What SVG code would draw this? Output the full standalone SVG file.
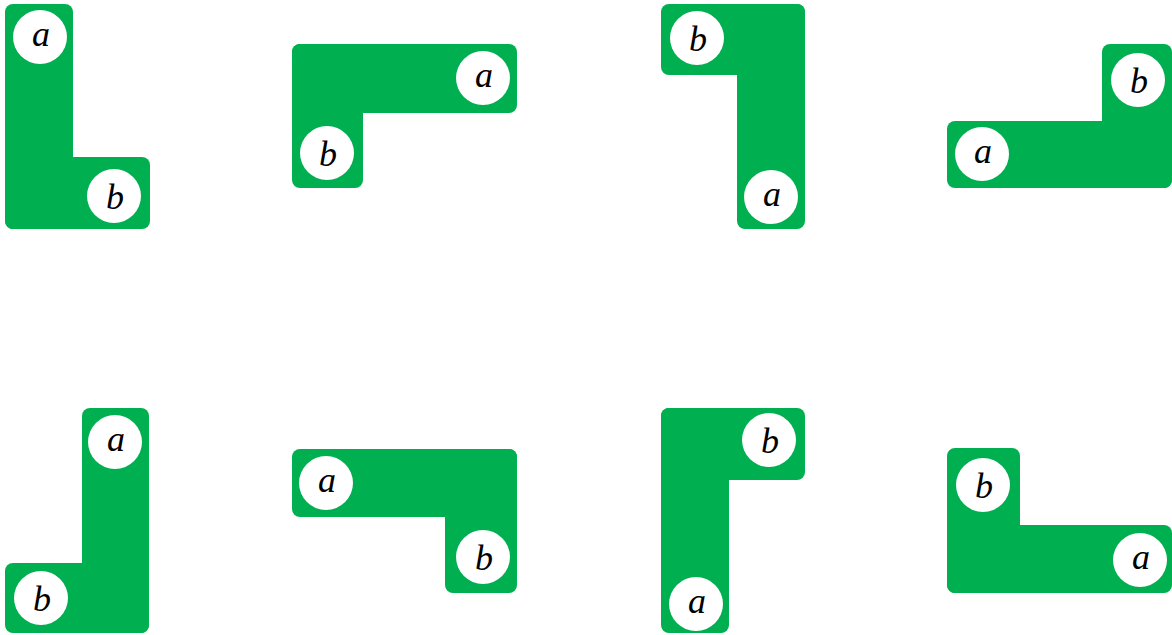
<svg xmlns="http://www.w3.org/2000/svg" width="1172" height="635" viewBox="0 0 1172 635">
<style>
.g{fill:#00AF50}
.c{fill:#ffffff}
.t{font-family:"Liberation Serif","DejaVu Serif",serif;font-style:italic;font-size:36px;fill:#000;text-anchor:middle}
</style>
<rect width="1172" height="635" fill="#ffffff"/>
<g id="shape1">
<rect class="g" x="5" y="4" width="68" height="225" rx="8"/>
<rect class="g" x="5" y="157" width="145" height="72" rx="8"/>
<circle class="c" cx="40" cy="37" r="27"/>
<text class="t" x="41" y="46">a</text>
<circle class="c" cx="114" cy="196" r="27"/>
<text class="t" x="115" y="209">b</text>
</g>
<g id="shape2">
<rect class="g" x="292" y="44" width="225" height="69" rx="8"/>
<rect class="g" x="292" y="44" width="71" height="144" rx="8"/>
<circle class="c" cx="483" cy="78" r="27"/>
<text class="t" x="484" y="87">a</text>
<circle class="c" cx="327" cy="153" r="27"/>
<text class="t" x="328" y="166">b</text>
</g>
<g id="shape3">
<rect class="g" x="661" y="4" width="144" height="71" rx="8"/>
<rect class="g" x="737" y="4" width="68" height="225" rx="8"/>
<circle class="c" cx="697" cy="38" r="27"/>
<text class="t" x="698" y="51">b</text>
<circle class="c" cx="771" cy="197" r="27"/>
<text class="t" x="772" y="206">a</text>
</g>
<g id="shape4">
<rect class="g" x="1102" y="44" width="70" height="144" rx="8"/>
<rect class="g" x="947" y="121" width="225" height="67" rx="8"/>
<circle class="c" cx="1138" cy="80" r="27"/>
<text class="t" x="1139" y="93">b</text>
<circle class="c" cx="982" cy="154" r="27"/>
<text class="t" x="983" y="163">a</text>
</g>
<g id="shape5">
<rect class="g" x="82" y="408" width="67" height="225" rx="8"/>
<rect class="g" x="5" y="563" width="144" height="70" rx="8"/>
<circle class="c" cx="115" cy="442" r="27"/>
<text class="t" x="116" y="451">a</text>
<circle class="c" cx="41" cy="598" r="27"/>
<text class="t" x="42" y="611">b</text>
</g>
<g id="shape6">
<rect class="g" x="292" y="449" width="225" height="68" rx="8"/>
<rect class="g" x="445" y="449" width="72" height="144" rx="8"/>
<circle class="c" cx="326" cy="483" r="27"/>
<text class="t" x="327" y="492">a</text>
<circle class="c" cx="483" cy="557" r="27"/>
<text class="t" x="484" y="570">b</text>
</g>
<g id="shape7">
<rect class="g" x="661" y="408" width="68" height="225" rx="8"/>
<rect class="g" x="661" y="408" width="144" height="72" rx="8"/>
<circle class="c" cx="769" cy="440" r="27"/>
<text class="t" x="770" y="453">b</text>
<circle class="c" cx="696" cy="604" r="27"/>
<text class="t" x="697" y="613">a</text>
</g>
<g id="shape8">
<rect class="g" x="947" y="448" width="73" height="145" rx="8"/>
<rect class="g" x="947" y="525" width="225" height="68" rx="8"/>
<circle class="c" cx="983" cy="485" r="27"/>
<text class="t" x="984" y="498">b</text>
<circle class="c" cx="1140" cy="560" r="27"/>
<text class="t" x="1141" y="569">a</text>
</g>
<g id="connectors"></g>
</svg>
